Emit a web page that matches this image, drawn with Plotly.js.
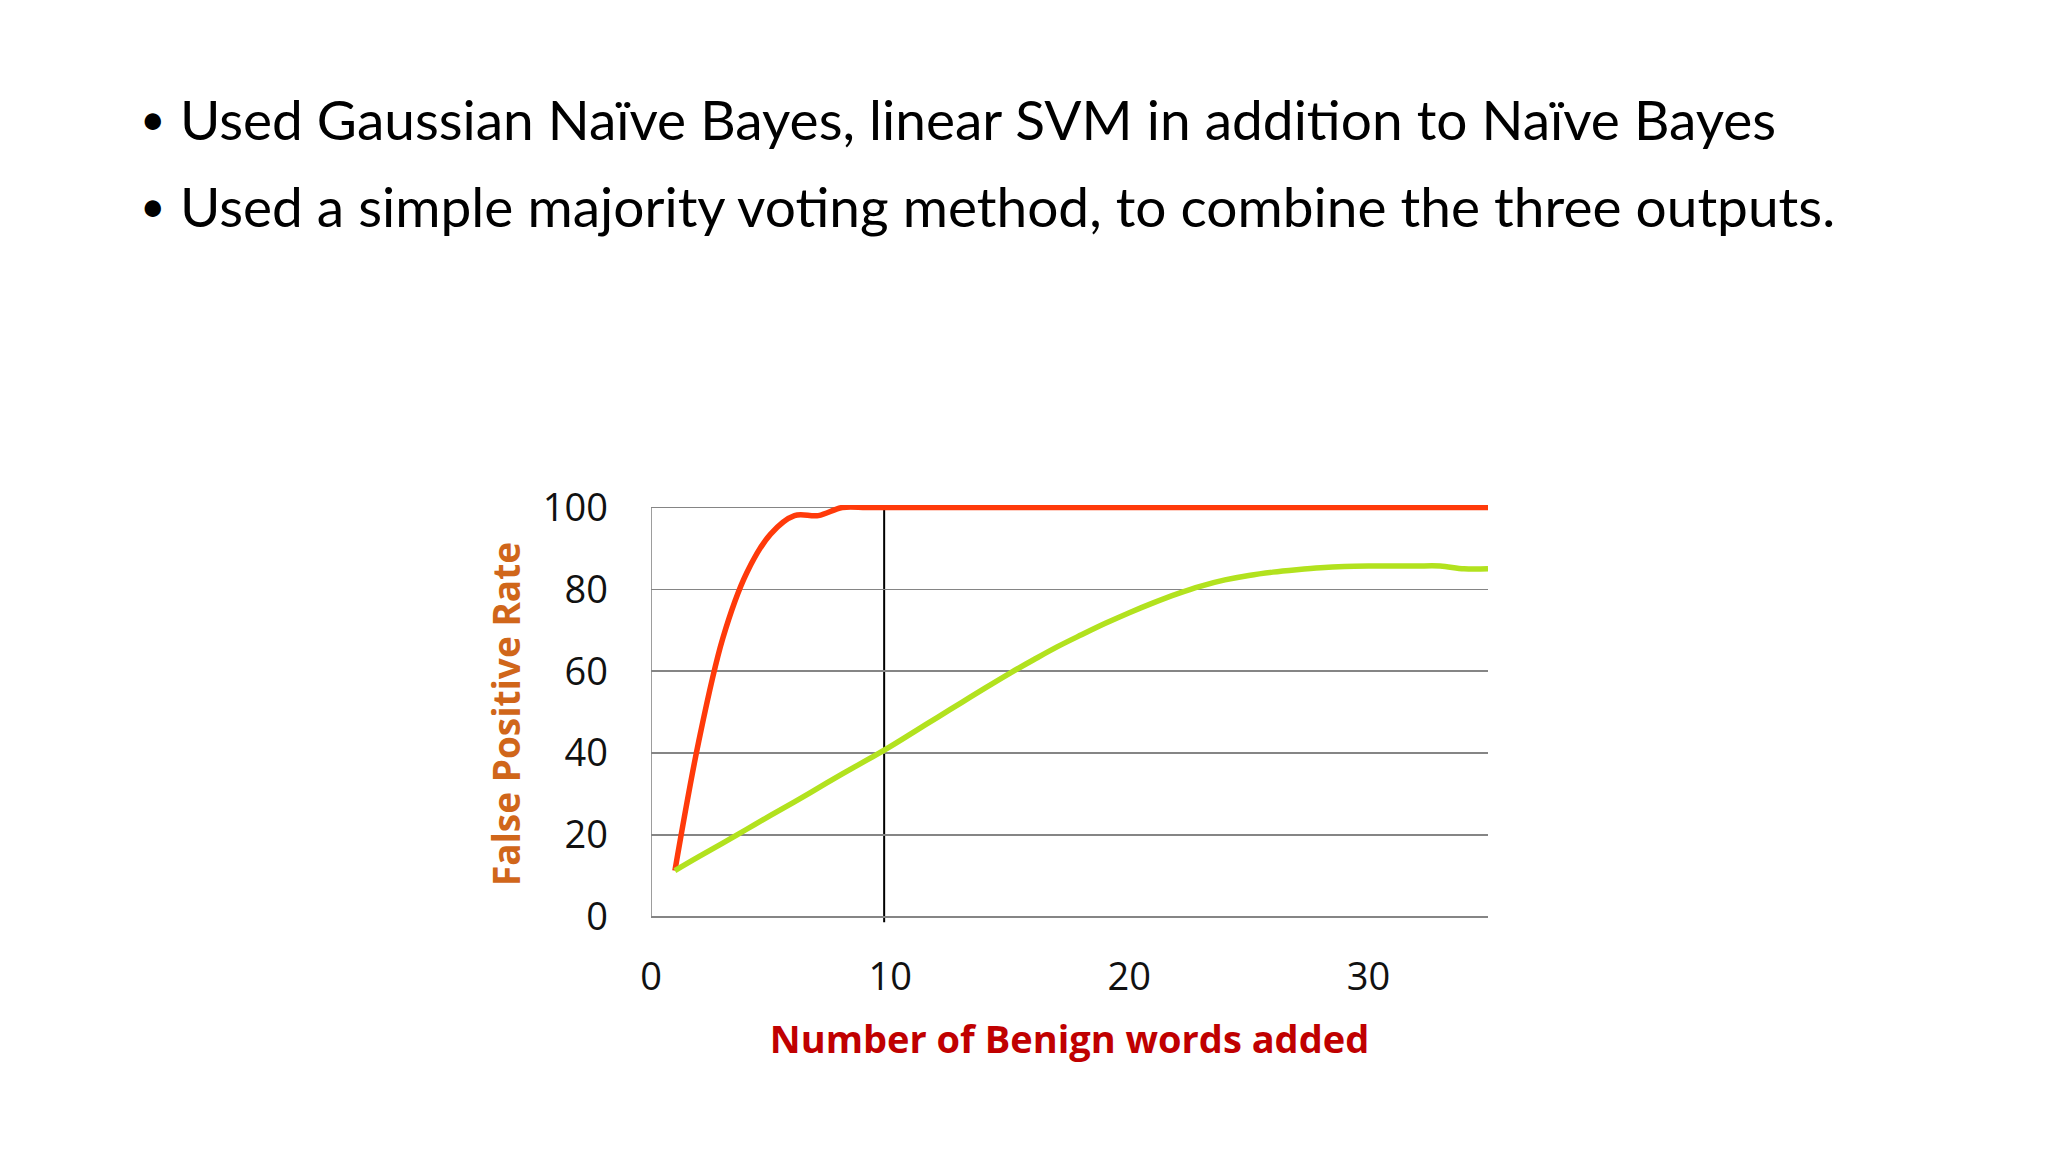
<!DOCTYPE html>
<html>
<head>
<meta charset="utf-8">
<script src="https://cdn.plot.ly/plotly-3.0.1.min.js"></script>
<style>
  html, body { margin: 0; padding: 0; background: #ffffff; }
  #chart { width: 2048px; height: 1152px; }
</style>
</head>
<body>
<div id="chart"></div>
<script>
// ---- Data ----
const wordsAdded = [1, 2, 3, 4, 5, 6, 7, 8, 9, 10,
                    11, 12, 13, 14, 15, 16, 17, 18, 19, 20,
                    21, 22, 23, 24, 25, 26, 27, 28, 29, 30,
                    31, 32, 33, 34, 35];
const fprRed = [11.3, 43, 68, 84, 93.5, 98, 98, 100, 100, 100,
                100, 100, 100, 100, 100, 100, 100, 100, 100, 100,
                100, 100, 100, 100, 100, 100, 100, 100, 100, 100,
                100, 100, 100, 100, 100];
const fprGreen = [11.3, 14.7, 18.0, 21.4, 24.8, 28.1, 31.5, 34.9, 38.2, 41.6,
                  45.2, 48.8, 52.4, 56.0, 59.5, 62.8, 66.0, 68.9, 71.7, 74.3,
                  76.7, 78.9, 80.8, 82.3, 83.4, 84.2, 84.8, 85.3, 85.6, 85.7,
                  85.7, 85.7, 85.7, 85.0, 85.0];
const yTickVals = [0, 20, 40, 60, 80, 100];
const xTickVals = [0, 10, 20, 30];
const markerX = 9.75;           // the black vertical line
const bulletLines = [
  "Used Gaussian Naïve Bayes, linear SVM in addition to Naïve Bayes",
  "Used a simple majority voting method, to combine the three outputs."
];
const xTitle = "Number of Benign words added";
const yTitle = "False Positive Rate";

// ---- Layout geometry ----
const W = 2048, H = 1152;
const plotL = 651, plotR = 1488, plotT = 504.5, plotB = 923.5;
const px = x => (x - plotL) / (plotR - plotL);
const py = y => (plotB - y) / (plotB - plotT);

const traces = [
  {
    x: wordsAdded, y: fprRed, type: 'scatter', mode: 'lines',
    line: { color: '#FF3A0A', width: 5.5, shape: 'spline', smoothing: 1 },
    hoverinfo: 'skip'
  },
  {
    x: wordsAdded, y: fprGreen, type: 'scatter', mode: 'lines',
    line: { color: '#B2E21E', width: 5.5, shape: 'spline', smoothing: 1 },
    hoverinfo: 'skip'
  }
];

const textFont = { family: 'Lato, "Open Sans", sans-serif', size: 55, color: '#000000' };
const bulletFont = { family: 'Lato, "Open Sans", sans-serif', size: 44, color: '#000000' };
const annotations = [];
const lineY = [118, 205];
bulletLines.forEach((t, i) => {
  annotations.push({
    xref: 'paper', yref: 'paper', x: px(138), y: py(lineY[i] - 1),
    xanchor: 'left', yanchor: 'middle', showarrow: false,
    text: '•', font: bulletFont
  });
  annotations.push({
    xref: 'paper', yref: 'paper', x: px(178), y: py(lineY[i]),
    xanchor: 'left', yanchor: 'middle', showarrow: false,
    text: t, font: textFont
  });
});

const layout = {
  width: W, height: H,
  paper_bgcolor: '#ffffff', plot_bgcolor: '#ffffff',
  margin: { l: plotL, r: W - plotR, t: plotT, b: H - plotB, pad: 0, autoexpand: false },
  showlegend: false,
  hovermode: false,
  xaxis: {
    range: [0, 35], tickvals: xTickVals, ticktext: xTickVals.map(String),
    showgrid: false, zeroline: false, showline: false, ticks: '',
    ticklabelstandoff: 28,
    tickfont: { family: '"Open Sans", sans-serif', size: 38, color: '#111111' },
    title: { text: xTitle, standoff: 26,
             font: { family: '"Open Sans", sans-serif', size: 38, color: '#C00000', weight: 'bold' } },
    fixedrange: true
  },
  yaxis: {
    range: [-1.5, 100.6], tickvals: yTickVals, ticktext: yTickVals.map(String),
    showgrid: true, gridcolor: '#858585', gridwidth: 1.6,
    zeroline: false, showline: false, ticks: '',
    ticklabelstandoff: 42,
    tickfont: { family: '"Open Sans", sans-serif', size: 38, color: '#111111' },
    title: { text: yTitle, standoff: 10,
             font: { family: '"Open Sans", sans-serif', size: 37, color: '#D0661A', weight: 'bold' } },
    fixedrange: true
  },
  shapes: [
    { type: 'line', xref: 'x', yref: 'y', x0: 0, x1: 0, y0: 0, y1: 100,
      line: { color: '#858585', width: 1.6 }, layer: 'below' },
    { type: 'line', xref: 'x', yref: 'y', x0: markerX, x1: markerX, y0: -1.3, y1: 100,
      line: { color: '#000000', width: 2 }, layer: 'below' }
  ],
  annotations: annotations
};

Plotly.newPlot('chart', traces, layout, { displayModeBar: false, staticPlot: true });
</script>
</body>
</html>
